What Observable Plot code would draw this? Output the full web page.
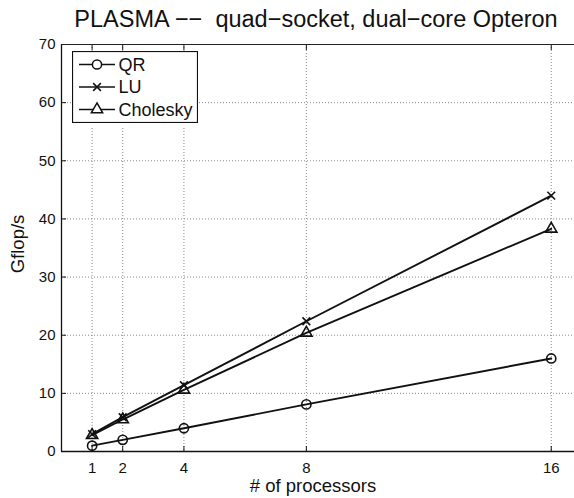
<!DOCTYPE html>
<html>
<head>
<meta charset="utf-8">
<script src="https://cdn.jsdelivr.net/npm/d3@7"></script>
<script src="https://cdn.jsdelivr.net/npm/@observablehq/plot@0.6"></script>
<style>
  html, body { margin: 0; padding: 0; background: #fff; overflow: hidden; }
  #wrap { position: relative; width: 574px; height: 498px; font-family: "Liberation Sans", Arial, Helvetica, sans-serif; }
  #title { height: 36px; line-height: 36px; padding-top: 1px; box-sizing: border-box; text-align: center; font-size: 23.5px; color: #111; padding-left: 58px; white-space: pre; }
  #legend { position: absolute; left: 72px; top: 51px; background: #fff; }
</style>
</head>
<body>
<div id="wrap">
  <div id="title">PLASMA −−  quad−socket, dual−core Opteron</div>
  <div id="chart"></div>
  <div id="legend"></div>
</div>
<script>
// ---- data ----
const processors = [1, 2, 4, 8, 16];
const seriesNames = ["QR", "LU", "Cholesky"];
const qrValues = [1.0, 2.0, 4.0, 8.1, 16.0];
const luValues = [3.0, 5.9, 11.4, 22.4, 44.0];
const choleskyValues = [2.8, 5.5, 10.6, 20.4, 38.3];
const xTicks = [1, 2, 4, 8, 16];
const yTicks = [0, 10, 20, 30, 40, 50, 60, 70];
const xLabel = "# of processors";
const yLabel = "Gflop/s";

const seriesValues = [qrValues, luValues, choleskyValues];
const symbols = ["circle", "times", "triangle"];
const symbolR = [4.6, 3.6, 4.2];
const rows = [];
seriesNames.forEach((name, i) => {
  processors.forEach((p, j) => rows.push({series: name, p, v: seriesValues[i][j], sym: symbols[i], r: symbolR[i]}));
});

const font = "Liberation Sans, Arial, Helvetica, sans-serif";
const plot = Plot.plot({
  width: 574,
  height: 462,
  marginLeft: 61,
  marginRight: 0,
  marginTop: 8,
  marginBottom: 47,
  style: {fontFamily: font, fontSize: "15px", color: "#111", background: "transparent", overflow: "visible"},
  x: {domain: [0, 16.76]},
  y: {domain: [0, 70]},
  symbol: {type: "identity"},
  r: {type: "identity"},
  marks: [
    Plot.gridX(xTicks, {stroke: "#8a8a8a", strokeOpacity: 1, strokeDasharray: "1,2"}),
    Plot.gridY(yTicks, {stroke: "#8a8a8a", strokeOpacity: 1, strokeDasharray: "1,2"}),
    Plot.axisX({ticks: xTicks, tickSize: 0, tickPadding: 11, label: null, fontSize: 15}),
    Plot.axisY({ticks: yTicks, tickSize: 0, tickPadding: 6, label: null, fontSize: 15}),
    Plot.axisX({anchor: "bottom", ticks: xTicks, tickSize: -5, fill: "none", label: null, stroke: "#111"}),
    Plot.axisX({anchor: "top", ticks: xTicks, tickSize: -5, fill: "none", label: null, stroke: "#111"}),
    Plot.axisY({anchor: "left", ticks: yTicks, tickSize: -5, fill: "none", label: null, stroke: "#111"}),
    Plot.text([xLabel], {frameAnchor: "bottom", textAnchor: "middle", lineAnchor: "bottom", dx: -5, dy: 40.5, fontSize: 18.5, fill: "#111"}),
    Plot.text([yLabel], {frameAnchor: "left", textAnchor: "middle", lineAnchor: "middle", rotate: -90, dx: -43.8, dy: -4, fontSize: 18.5, fill: "#111"}),
    Plot.ruleX([0], {stroke: "#111", strokeWidth: 1.3}),
    Plot.ruleY([0], {stroke: "#111", strokeWidth: 1.5}),
    Plot.ruleY([70], {stroke: "#222", strokeWidth: 1.2}),
    Plot.line(rows, {x: "p", y: "v", z: "series", stroke: "#111", strokeWidth: 1.9}),
    Plot.dot(rows, {x: "p", y: "v", symbol: "sym", r: "r", stroke: "#111", strokeWidth: 1.6, fill: "none"})
  ]
});
document.getElementById("chart").appendChild(plot);

// ---- legend ----
const lw = 125, lh = 71;
const leg = d3.select("#legend").append("svg").attr("width", lw + 1).attr("height", lh + 1);
leg.append("rect").attr("x", 0.5).attr("y", 0.5).attr("width", lw).attr("height", lh)
  .attr("fill", "#fff").attr("stroke", "#111").attr("stroke-width", 1.2);
const symMap = {circle: d3.symbolCircle, times: d3.symbolTimes, triangle: d3.symbolTriangle};
seriesNames.forEach((name, i) => {
  const cy = 13.5 + i * 22.5;
  const g = leg.append("g").attr("transform", `translate(0,${cy})`);
  g.append("line").attr("x1", 7).attr("x2", 43).attr("y1", 0).attr("y2", 0).attr("stroke", "#111").attr("stroke-width", 1.7);
  g.append("path").attr("transform", "translate(25,0)")
    .attr("d", d3.symbol(symMap[symbols[i]], Math.PI * symbolR[i] * symbolR[i])())
    .attr("fill", "#fff").attr("stroke", "#111").attr("stroke-width", 1.5);
  g.append("text").attr("x", 46.5).attr("y", 0).attr("dy", "0.35em")
    .attr("font-family", font).attr("font-size", 18).attr("fill", "#111").text(name);
});
</script>
</body>
</html>
